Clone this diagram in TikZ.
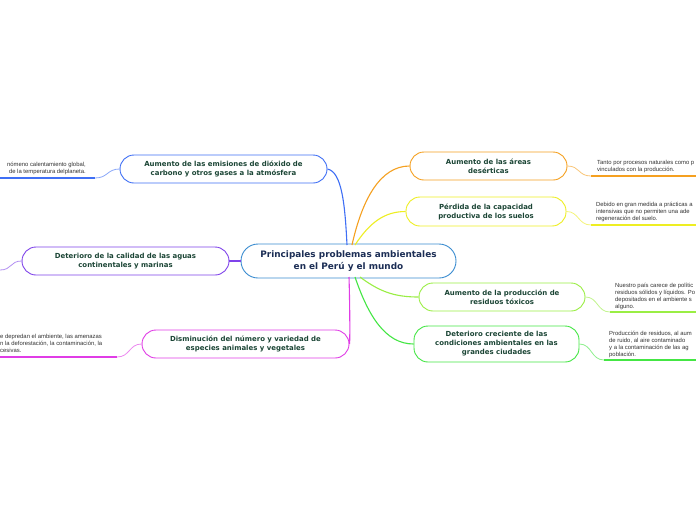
\documentclass[tikz,border=0pt]{standalone}
\usepackage{fontspec}
\setmainfont{DejaVu Sans}
\newfontfamily\leaffont{Liberation Sans}
\definecolor{cmain}{HTML}{3A8CD0}
\definecolor{cblue}{HTML}{3F6FF5}
\definecolor{cpurple}{HTML}{7F43EA}
\definecolor{cmag}{HTML}{E03CE6}
\definecolor{corange}{HTML}{F5A020}
\definecolor{cyellow}{HTML}{EEEE22}
\definecolor{clgreen}{HTML}{9AEE44}
\definecolor{cgreen}{HTML}{44E644}
\definecolor{ttopic}{HTML}{1B4535}
\definecolor{tmain}{HTML}{1C2E55}
\definecolor{tleaf}{HTML}{333333}
\tikzset{
  topic/.style={draw, line width=0.9pt, rounded corners=14pt, fill=white, align=center,
    text=ttopic, font=\bfseries\fontsize{6.95}{9}\selectfont, inner sep=0pt},
  central/.style={draw=cmain, line width=0.9pt, rounded corners=17pt, fill=white, align=center,
    text=tmain, font=\bfseries\fontsize{8.9}{11.5}\selectfont, inner sep=0pt,
    minimum width=215pt, minimum height=34pt},
  leaf/.style={text=tleaf, font=\leaffont\fontsize{5.9}{7}\selectfont, inner sep=0pt},
  uline/.style={line width=1.8pt},
  conn/.style={line width=1.1pt},
  lconn/.style={line width=0.8pt, opacity=0.6},
}
\begin{document}
\begin{tikzpicture}[x=1pt,y=-1pt]
\useasboundingbox (0,0) rectangle (696,520);
\fill[white] (0,0) rectangle (696,520);

\coordinate (cb) at (347,245);
\coordinate (co) at (352,245);
\coordinate (cy) at (355,245);
\coordinate (cl) at (360,277);
\coordinate (cg) at (355,277);
\coordinate (cm) at (349,277);

\node[central] (c) at (348.5,261) {Principales problemas ambientales\\en el Perú y el mundo};

\node[topic, draw=cblue, minimum width=207pt, minimum height=28pt] (n1) at (223.5,169)
  {Aumento de las emisiones de dióxido de\\carbono y otros gases a la atmósfera};
\node[topic, draw=cpurple, minimum width=207pt, minimum height=28pt] (n2) at (125.5,261)
  {Deterioro de la calidad de las aguas\\continentales y marinas};
\node[topic, draw=cmag, minimum width=207pt, minimum height=28pt] (n3) at (245.5,344)
  {Disminución del número y variedad de\\especies animales y vegetales};
\node[topic, draw=corange, minimum width=157pt, minimum height=28pt] (n4) at (488.5,166)
  {Aumento de las áreas\\desérticas};
\node[topic, draw=cyellow, minimum width=160pt, minimum height=29pt] (n5) at (486,211.5)
  {Pérdida de la capacidad\\productiva de los suelos};
\node[topic, draw=clgreen, minimum width=166pt, minimum height=28pt] (n6) at (502,297)
  {Aumento de la producción de\\residuos tóxicos};
\node[topic, draw=cgreen, minimum width=165pt, minimum height=36pt] (n7) at (496.5,344)
  {Deterioro creciente de las\\condiciones ambientales en las\\grandes ciudades};

\draw[conn, cblue] (cb) .. controls (345,205) and (342,172) .. (n1.east);
\draw[conn, corange] (co) .. controls (362,200) and (380,166) .. (n4.west);
\draw[conn, cyellow] (cy) .. controls (370,222) and (385,211.5) .. (n5.west);
\draw[conn, clgreen] (cl) .. controls (380,292) and (395,297) .. (n6.west);
\draw[conn, cgreen] (cg) .. controls (368,315) and (385,344) .. (n7.west);
\draw[conn, cmag] (cm) .. controls (350,310) and (350,344) .. (n3.east);
\draw[conn, cpurple] (c.west) -- (n2.east);

\coordinate (u1a) at (0,178);   \coordinate (u1b) at (95,178);
\coordinate (u3a) at (0,357);   \coordinate (u3b) at (117,357);
\coordinate (u2b) at (0,270);
\coordinate (u4a) at (591,176); \coordinate (u4b) at (696,176);
\coordinate (u5a) at (591,225); \coordinate (u5b) at (696,225);
\coordinate (u6a) at (610,312); \coordinate (u6b) at (696,312);
\coordinate (u7a) at (604,360); \coordinate (u7b) at (696,360);

\draw[uline, cblue] (u1a) -- (u1b);
\draw[uline, cmag] (u3a) -- (u3b);
\draw[uline, corange] (u4a) -- (u4b);
\draw[uline, cyellow] (u5a) -- (u5b);
\draw[uline, clgreen] (u6a) -- (u6b);
\draw[uline, cgreen] (u7a) -- (u7b);

\draw[lconn, cblue] (u1b) .. controls (108,178) and (107,169) .. (n1.west);
\draw[lconn, cpurple] (u2b) .. controls (12,270) and (10,261) .. (n2.west);
\draw[lconn, cmag] (u3b) .. controls (130,357) and (129,344) .. (n3.west);
\draw[lconn, corange] (n4.east) .. controls (580,166) and (578,176) .. (u4a);
\draw[lconn, cyellow] (n5.east) .. controls (579,211.5) and (578,225) .. (u5a);
\draw[lconn, clgreen] (n6.east) .. controls (598,297) and (597,312) .. (u6a);
\draw[lconn, cgreen] (n7.east) .. controls (592,344) and (591,360) .. (u7a);

\node[leaf, anchor=north east, align=right] (t1) at (86,162)
  {nómeno calentamiento global,\\de la temperatura delplaneta.};
\node[leaf, anchor=north west, align=left] (t3) at (0,334)
  {e depredan el ambiente, las amenazas\\n la deforestación, la contaminación, la\\cesivas.};
\node[leaf, anchor=north west, align=left] (t4) at (597,160)
  {Tanto por procesos naturales como p\\vinculados con la producción.};
\node[leaf, anchor=north west, align=left] (t5) at (596,202)
  {Debido en gran medida a prácticas a\\intensivas que no permiten una ade\\regeneración del suelo.};
\node[leaf, anchor=north west, align=left] (t6) at (615,283)
  {Nuestro país carece de polític\\residuos sólidos y líquidos. Po\\depositados en el ambiente s\\alguno.};
\node[leaf, anchor=north west, align=left] (t7) at (609,331)
  {Producción de residuos, al aum\\de ruido, al aire contaminado\\ y a la contaminación de las ag\\población.};
\end{tikzpicture}
\end{document}
